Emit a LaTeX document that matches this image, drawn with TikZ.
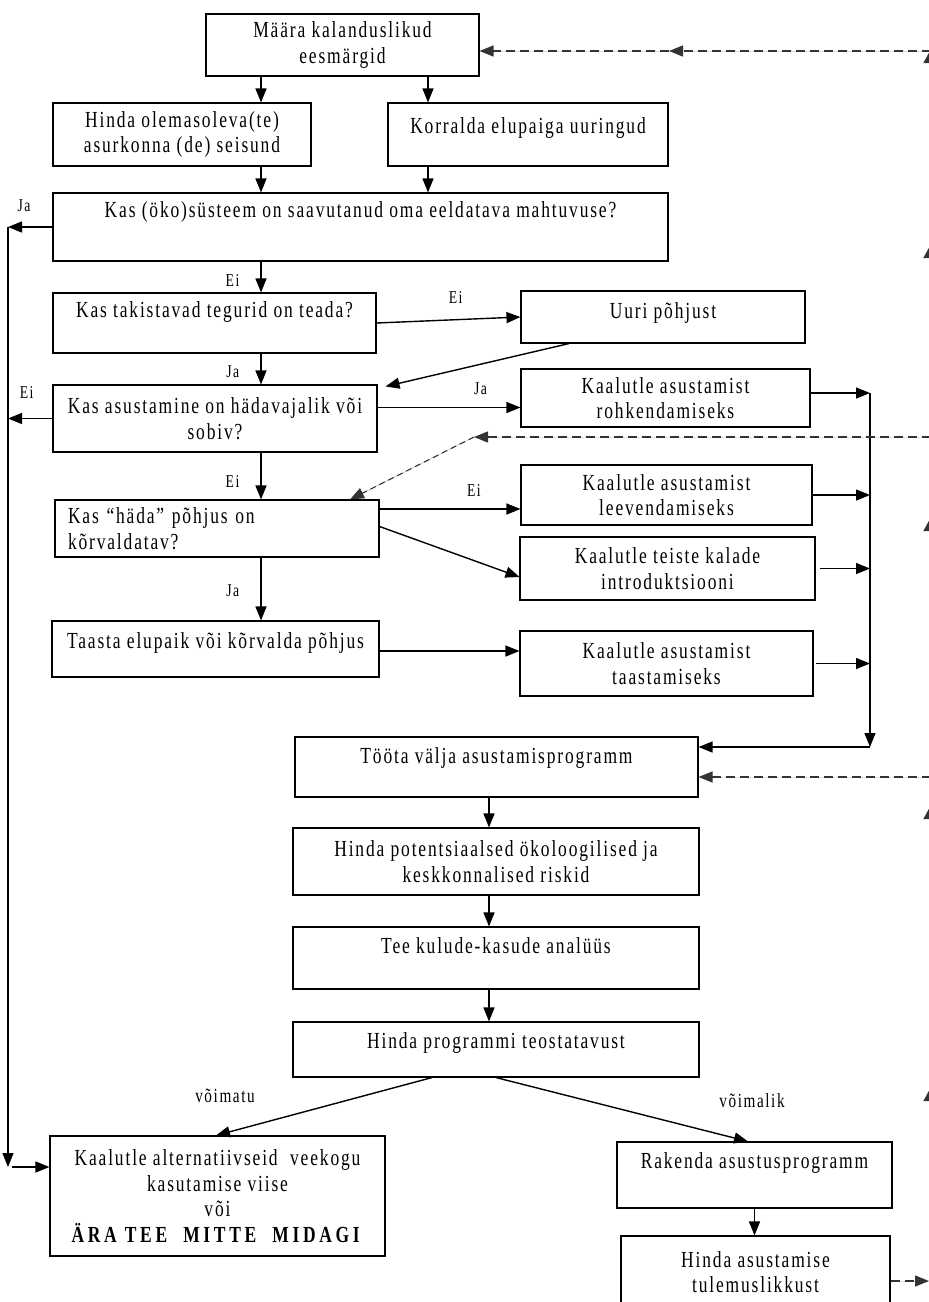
\documentclass[tikz,border=0pt]{standalone}
\usepackage{fontspec}
\setmainfont{Liberation Serif}[FakeStretch=0.76,LetterSpace=8]
\usetikzlibrary{arrows.meta,positioning,shadows}

\begin{document}
\begin{tikzpicture}[
  x=1pt, y=-1pt,
  box/.style={rectangle, draw, line width=1.1pt, fill=white, align=center,
    font=\fontsize{23}{25.5}\selectfont, inner sep=2pt,
    drop shadow={shadow xshift=1.2pt, shadow yshift=-1.2pt, fill=black, opacity=1}},
  sz/.style 2 args={minimum width=#1pt, minimum height=#2pt},
  arr/.style={-{Triangle[length=14pt, width=11pt]}, line width=1.4pt},
  dsh/.style={arr, dash pattern=on 9pt off 5pt, draw=black!80, fill=black},
  lbl/.style={font=\fontsize{18}{20}\selectfont, inner sep=0pt},
  cond/.style={font=\fontsize{20}{22}\selectfont, inner sep=0pt},
]
  \useasboundingbox (0,0) rectangle (929,1302);
  \clip (0,0) rectangle (929,1302);

  % columns used by the connectors
  \coordinate (cL) at (8,0);
  \coordinate (cA) at (261,0);
  \coordinate (cB) at (428,0);
  \coordinate (cC) at (489,0);
  \coordinate (cR) at (870,0);

  % boxes
  \node[box, sz={273}{62}] (goals) at (342.5,45) {Määra kalanduslikud\\eesmärgid};
  \node[box, sz={258}{63}] (olukord) at (182,134.5) {Hinda olemasoleva(te)\\ asurkonna (de) seisund};
  \node[box, sz={280}{63}, text depth=18pt] (uuring) at (528,134.5) {Korralda elupaiga uuringud};
  \node[box, sz={615}{68}, text depth=35pt] (mahtuvus) at (360.5,227) {Kas (öko)süsteem on saavutanud oma eeldatava mahtuvuse?};
  \node[box, sz={323}{60}, text depth=27pt] (tegurid) at (214.5,323) {Kas takistavad tegurid on teada?};
  \node[box, sz={284}{52}, text depth=13pt] (pohjus) at (663,317) {Uuri põhjust};
  \node[box, sz={324}{67}] (vajalik) at (215,418.5) {Kas asustamine on hädavajalik või\\sobiv?};
  \node[box, sz={289}{58}] (rohkend) at (665.5,398) {Kaalutle asustamist\\rohkendamiseks};
  \node[box, sz={324}{57}, text width=298pt, align=left, inner xsep=13pt] (haada) at (217,528.5) {Kas “häda” põhjus on\\kõrvaldatav?};
  \node[box, sz={291}{60}] (leevend) at (666.5,495) {Kaalutle asustamist\\leevendamiseks};
  \node[box, sz={295}{63}] (introd) at (667.5,568.5) {Kaalutle teiste kalade\\introduktsiooni};
  \node[box, sz={327}{56}, text depth=17pt] (taasta) at (215.5,649) {Taasta elupaik või kõrvalda põhjus};
  \node[box, sz={293}{65}] (taastam) at (666.5,663.5) {Kaalutle asustamist\\taastamiseks};
  \node[box, sz={403}{60}, text depth=23pt] (programm) at (496.5,767) {Tööta välja asustamisprogramm};
  \node[box, sz={406}{67}] (riskid) at (496,861.5) {Hinda potentsiaalsed ökoloogilised ja\\keskkonnalised riskid};
  \node[box, sz={406}{62}, text depth=25pt] (analyys) at (496,958) {Tee kulude-kasude analüüs};
  \node[box, sz={406}{55}, text depth=18pt] (teostat) at (496,1049.5) {Hinda programmi teostatavust};
  \node[box, sz={335}{120}] (alternat) at (217.5,1196) {Kaalutle alternatiivseid\ \ veekogu\\kasutamise viise\\või\\\textbf{\addfontfeature{LetterSpace=16}ÄRA TEE\ \ MITTE\ \ MIDAGI}};
  \node[box, sz={275}{66}, text depth=29pt] (rakenda) at (754.5,1175) {Rakenda asustusprogramm};
  \node[box, sz={269}{72}] (tulemus) at (755.5,1272) {Hinda asustamise\\tulemuslikkust};

  % free ends
  \coordinate (cLb) at (8,1167);
  \coordinate (dk1) at (669,51);
  \coordinate (dk2) at (474,437);
  \coordinate (fbTop) at (930.5,51);
  \coordinate (fbMid) at (930.5,437);
  \coordinate (fbLow) at (930.5,777);
  \coordinate (fbBot) at (929,1281);

  % main flow
  \draw[arr] (goals.south -| cA) -- (olukord.north -| cA);
  \draw[arr] (goals.south -| cB) -- (uuring.north -| cB);
  \draw[arr] (olukord.south -| cA) -- (mahtuvus.north -| cA);
  \draw[arr] (uuring.south -| cB) -- (mahtuvus.north -| cB);
  \draw[arr] (mahtuvus.west) -- (mahtuvus.west -| cL) node[lbl, above=15pt, pos=0.64] (ja1) {Ja};
  \draw[arr] (mahtuvus.south -| cA) -- (tegurid.north -| cA) node[lbl, left=21pt, pos=0.6] (ei1) {Ei};
  \draw[arr] (tegurid.east) -- (pohjus.west) node[lbl, above=16pt, pos=0.55] (ei2) {Ei};
  \draw[arr] ([xshift=-94pt]pohjus.south) -- ([xshift=8pt, yshift=-2pt]vajalik.north east);
  \draw[arr] (tegurid.south -| cA) -- (vajalik.north -| cA) node[lbl, left=21pt, pos=0.6] (ja2) {Ja};
  \draw[arr] (vajalik.west) -- (vajalik.west -| cL) node[lbl, above=19pt, pos=0.58] (ei3) {Ei};
  \draw[arr] ([yshift=11pt]vajalik.east) -- ([yshift=11pt]vajalik.east -| rohkend.west) node[lbl, above=12pt, pos=0.72] (ja3) {Ja};
  \draw[arr] (vajalik.south -| cA) -- (haada.north -| cA) node[lbl, left=21pt, pos=0.62] (ei4) {Ei};
  \draw[arr] ([yshift=19.5pt]haada.east) -- ([yshift=19.5pt]haada.east -| leevend.west) node[lbl, above=12pt, pos=0.67] (ei5) {Ei};
  \draw[arr] ([yshift=2pt]haada.east) -- ([yshift=-8.5pt]introd.west);
  \draw[arr] (haada.south -| cA) -- (taasta.north -| cA) node[lbl, left=21pt, pos=0.53] (ja4) {Ja};
  \draw[arr] ([yshift=-2pt]taasta.east) -- ([yshift=-2pt]taasta.east -| taastam.west);

  % collecting line on the right
  \draw[arr] ([yshift=5pt]rohkend.east) -- ([yshift=5pt]rohkend.east -| cR);
  \draw[arr] (leevend.east) -- (leevend.east -| cR);
  \draw[arr] ([xshift=4pt]introd.east) -- (introd.east -| cR);
  \draw[arr] ([xshift=2pt]taastam.east) -- (taastam.east -| cR);
  \draw[arr, line width=1.2pt] ([yshift=5pt]rohkend.east -| cR) -- ([yshift=20pt]programm.east -| cR);
  \draw[arr] ([yshift=20pt]programm.east -| cR) -- ([yshift=20pt]programm.east);

  \draw[arr] (programm.south -| cC) -- (riskid.north -| cC);
  \draw[arr] (riskid.south -| cC) -- (analyys.north -| cC);
  \draw[arr] (analyys.south -| cC) -- (teostat.north -| cC);
  \draw[arr] ([xshift=-64pt]teostat.south) -- ([xshift=-1.5pt]alternat.north);
  \draw[arr] (teostat.south) -- ([xshift=-6.5pt]rakenda.north);
  \node[cond] (vimatu) at (225,1096) {võimatu};
  \node[cond] (vimalik) at (752,1101) {võimalik};
  \draw[arr] (rakenda.south) -- (rakenda.south |- tulemus.north);

  % left return line
  \draw[arr, line width=1.2pt] (mahtuvus.west -| cL) -- (cLb);
  \draw[arr] ([xshift=4pt]cLb) -- (alternat.west |- cLb);

  % dashed feedback
  \draw[dsh] (fbTop) -- (dk1);
  \draw[dsh] (dk1) -- ([yshift=-6pt]goals.east);
  \draw[dsh] (fbMid) -- (dk2);
  \draw[dsh, line width=1.1pt, dash pattern=on 6pt off 4pt] (dk2) -- ([xshift=133pt]haada.north);
  \draw[dsh] (fbLow) -- ([yshift=-10pt]programm.east);
  \draw[dsh] ([yshift=-9pt]tulemus.east) -- (fbBot);
  \foreach \ty in {50,245,518,806,1088}
    \draw[dsh, -{Triangle[length=13pt, width=14pt]}] (930.5,\ty+30) -- (930.5,\ty);
\end{tikzpicture}
\end{document}
